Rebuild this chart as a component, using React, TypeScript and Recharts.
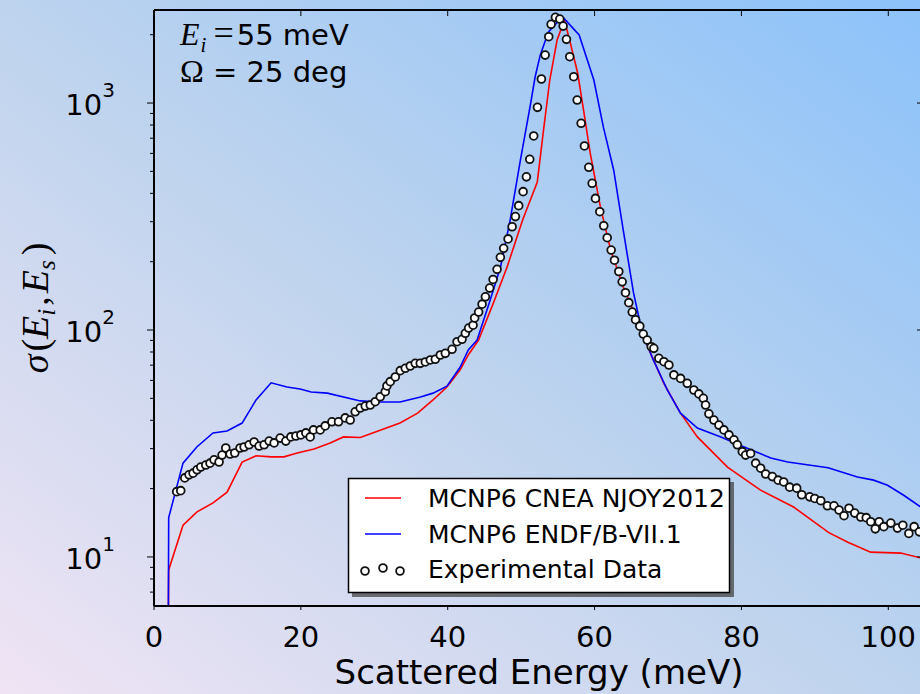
import { ComposedChart, Line, Scatter, XAxis, YAxis } from "recharts"

const W = 930
const H = 694
const PL = 154
const PT = 10
const PR = 925
const PB = 606

const xTicks = [0, 20, 40, 60, 80, 100]
const yMajor = [10, 100, 1000]
const yTicks = [7, 8, 9, 10, 20, 30, 40, 50, 60, 70, 80, 90, 100, 200, 300, 400, 500, 600, 700, 800, 900, 1000, 2000]

// MCNP6 CNEA NJOY2012
const redX = [1.95, 2.0, 3.95, 5.86, 8.04, 9.95, 12.0, 13.9, 15.95, 17.7, 19.5, 21.8, 24.0, 25.8, 28.1, 30.8, 33.5, 35.9, 38.0, 39.9, 41.7, 42.8, 44.2, 46.2, 48.1, 50.2, 52.2, 53.0, 53.9, 54.9, 55.9, 56.7, 57.7, 58.5, 59.4, 60.8, 62.2, 63.9, 65.8, 67.6, 69.4, 71.7, 74.0, 78.1, 82.6, 87.1, 91.9, 94.5, 97.6, 101.7, 104.4]
const redY = [5, 8.77, 13.8, 15.8, 17.3, 19.3, 26.2, 27.9, 27.6, 27.6, 28.7, 29.9, 31.8, 33.8, 33.6, 36.2, 38.9, 43.0, 49.2, 56.1, 66.7, 77.6, 90.3, 131, 190, 305, 449, 738, 1263, 1898, 2322, 1837, 1356, 931, 603, 348, 225, 155, 111, 79.3, 58.5, 43.0, 33.8, 24.9, 19.7, 16.6, 12.8, 11.6, 10.5, 10.4, 9.9]

// MCNP6 ENDF/B-VII.1
const blueX = [1.95, 2.0, 3.95, 5.86, 8.04, 9.95, 12.0, 13.9, 15.95, 18.1, 19.9, 21.4, 23.6, 28.1, 30.8, 33.5, 36.3, 38.0, 39.9, 41.7, 42.8, 44.0, 45.8, 47.2, 48.5, 49.9, 51.3, 51.9, 52.6, 53.7, 54.8, 55.8, 57.9, 59.9, 61.2, 62.6, 63.9, 65.3, 66.5, 68.0, 69.9, 71.7, 74.0, 77.2, 80.3, 84.0, 86.3, 91.8, 95.8, 98.0, 99.9, 102.1, 104.4]
const blueY = [5, 14.9, 25.9, 30.6, 35.2, 35.9, 38.9, 49.2, 58.5, 56.1, 55.0, 53.3, 52.7, 48.7, 48.2, 48.2, 50.7, 52.7, 56.6, 68.7, 81.7, 90.3, 136, 190, 305, 561, 1000, 1302, 1626, 2054, 2249, 2367, 1994, 1263, 783, 507, 276, 146, 97.0, 73.8, 54.5, 43.0, 37.0, 33.8, 30.6, 27.3, 26.2, 24.7, 22.5, 21.8, 20.7, 18.7, 16.6]

// Experimental Data
const expX = [
  3.09, 3.64, 4.19, 4.77, 5.32, 5.86, 6.37, 7.05, 7.63, 8.18,
  8.86, 9.27, 9.77, 10.36, 11.0, 11.72, 12.27, 12.95, 13.63, 14.31,
  15.0, 15.68, 16.36, 17.18, 17.95, 18.64, 19.32, 20.0, 20.68, 21.27,
  21.72, 22.63, 23.31, 24.23, 25.13, 26.04, 26.72, 27.4, 28.08, 28.77,
  29.45, 30.13, 30.81, 31.49, 31.72, 32.17, 32.86, 33.54, 34.22, 34.9,
  35.58, 36.26, 36.95, 37.63, 38.31, 38.99, 39.67, 40.59, 41.27, 41.95,
  42.4, 42.85, 43.45, 43.67, 44.21, 44.68, 45.13, 45.71, 46.18, 46.72,
  47.17, 47.62, 48.22, 48.77, 49.22, 49.67, 50.27, 50.72, 51.17, 51.71,
  52.22, 52.76, 53.27, 53.76, 54.08, 54.67, 55.26, 55.72, 56.17, 56.62,
  57.16, 57.63, 58.17, 58.62, 59.21, 59.67, 60.12, 60.71, 61.25, 61.72,
  62.26, 62.71, 63.3, 63.76, 64.21, 64.66, 65.13, 65.58, 66.16, 66.63,
  67.17, 67.72, 68.07, 68.75, 69.44, 70.12, 70.8, 71.71, 72.62, 73.52,
  74.2, 74.81, 75.12, 75.57, 76.25, 76.93, 77.61, 78.3, 78.98, 79.44,
  80.12, 80.57, 81.25, 81.94, 82.62, 83.3, 84.21, 85.0, 85.75, 86.57,
  87.53, 88.21, 89.3, 89.98, 90.8, 91.71, 92.61, 93.29, 93.97, 94.65,
  95.43, 96.25, 97.0, 97.61, 98.23, 98.75, 99.39, 100.34, 101.25, 101.98,
  102.8, 103.52, 104.23,
]
const expY = [
  19.4, 19.6, 22.3, 23.0, 23.4, 24.2, 24.9, 25.4, 25.9, 26.8,
  26.2, 28.1, 30.2, 28.4, 28.7, 30.2, 30.5, 31.2, 32.1, 30.8,
  31.2, 32.4, 31.8, 33.4, 32.4, 33.8, 34.1, 34.5, 35.2, 33.8,
  36.3, 36.3, 37.8, 39.4, 39.4, 41.0, 40.1, 43.6, 45.3, 46.2,
  46.7, 48.3, 50.8, 53.5, 56.7, 59.2, 62.1, 66.2, 67.8, 69.4,
  71.3, 71.3, 72.3, 73.8, 74.3, 77.6, 78.9, 82.2, 88.8, 91.0,
  96.7, 102, 105, 113, 120, 130, 140, 153, 167, 185,
  209, 229, 252, 285, 316, 353, 407, 473, 565, 716,
  957, 1276, 1626, 1960, 2222, 2387, 2344, 2183, 1908, 1600,
  1306, 1031, 814, 647, 521, 443, 380, 332, 288, 255,
  225, 203, 181, 163, 146, 132, 120, 111, 104, 96,
  90.3, 84.4, 83.0, 75.0, 72.5, 70.1, 63.4, 61.2, 58.2, 54.4,
  52.3, 50.0, 46.7, 42.7, 40.1, 38.1, 36.3, 34.5, 32.8, 31.2,
  29.1, 28.1, 28.6, 25.9, 24.6, 23.2, 22.6, 21.8, 21.4, 20.3,
  20.1, 18.8, 18.4, 18.1, 17.7, 16.8, 16.8, 16.1, 15.2, 16.4,
  15.6, 15.0, 14.9, 14.3, 13.3, 14.3, 13.6, 14.1, 13.4, 13.8,
  12.7, 13.6, 12.9,
]

const redData = redX.map((x, i) => ({ x, y: redY[i] }))
const blueData = blueX.map((x, i) => ({ x, y: blueY[i] }))
const expData = expX.map((x, i) => ({ x, y: expY[i] }))

const SANS = "DejaVu Sans"
const SERIF = "Liberation Serif"

const BottomTick = ({ x, payload }: any) => (
  <g>
    <line x1={x} x2={x} y1={PB} y2={PB + 4} stroke="#000" strokeWidth={1} />
    <text x={x} y={PB + 41} textAnchor="middle" fontFamily={SANS} fontSize={29} fill="#000">
      {payload.value}
    </text>
  </g>
)

const TopTick = ({ x }: any) => <line x1={x} x2={x} y1={PT} y2={PT + 6} stroke="#000" strokeWidth={1} />

const LeftTick = ({ y, payload }: any) => {
  const v = payload.value
  const major = yMajor.includes(v)
  return (
    <g>
      <line x1={PL - (major ? 7 : 4)} x2={PL} y1={y} y2={y} stroke="#000" strokeWidth={1} />
      {major && (
        <text x={PL - 39} y={y + 12} textAnchor="end" fontFamily={SANS} fontSize={29} fill="#000">
          10
          <tspan dy={-18} fontSize={20}>
            {Math.round(Math.log10(v))}
          </tspan>
        </text>
      )}
    </g>
  )
}

const RightTick = ({ y, payload }: any) => {
  const major = yMajor.includes(payload.value)
  return <line x1={PR - (major ? 8 : 4)} x2={PR} y1={y} y2={y} stroke="#000" strokeWidth={1} />
}

const Circle = ({ cx, cy }: any) => <circle cx={cx} cy={cy} r={3.9} fill="#fff" stroke="#111" strokeWidth={1.8} />

function Overlay() {
  return (
    <svg width={920} height={694} style={{ position: "absolute", left: 0, top: 0, pointerEvents: "none" }}>
      {/* annotations */}
      <text x={180} y={45} fontSize={29} fill="#000">
        <tspan fontFamily={SERIF} fontStyle="italic" fontSize={32}>E</tspan>
        <tspan fontFamily={SERIF} fontStyle="italic" fontSize={21} dy={7} dx={1}>i</tspan>
        <tspan fontFamily={SERIF} fontSize={36} dy={-7} dx={7}>=</tspan>
        <tspan fontFamily={SANS} dx={3}>55 meV</tspan>
      </text>
      <text x={180} y={82} fontSize={29} fill="#000">
        <tspan fontFamily={SERIF} fontSize={32}>Ω</tspan>
        <tspan fontFamily={SANS}> = 25 deg</tspan>
      </text>

      {/* axis labels */}
      <text x={539} y={684} textAnchor="middle" fontFamily={SANS} fontSize={34} fill="#000">
        Scattered Energy (meV)
      </text>
      <text
        x={48}
        y={308}
        textAnchor="middle"
        fontFamily={SERIF}
        fontSize={38}
        fill="#000"
        transform="rotate(-90 48 308)"
      >
        <tspan fontStyle="italic">σ</tspan>
        <tspan dx={3}>(</tspan>
        <tspan fontStyle="italic">E</tspan>
        <tspan fontStyle="italic" fontSize={25} dy={7}>i</tspan>
        <tspan dy={-7} dx={3}>,</tspan>
        <tspan fontStyle="italic" dx={3}>E</tspan>
        <tspan fontStyle="italic" fontSize={25} dy={7}>s</tspan>
        <tspan dy={-7} dx={5}>)</tspan>
      </text>

      {/* legend */}
      <rect x={352} y={482} width={382} height={115} fill="#444" opacity={0.75} />
      <rect x={348.5} y={478.5} width={381} height={114} fill="#fff" stroke="#000" strokeWidth={1.5} />
      <line x1={365} x2={401} y1={498} y2={498} stroke="#ff0000" strokeWidth={1.6} />
      <text x={428} y={507} fontFamily={SANS} fontSize={25} fill="#000">MCNP6 CNEA NJOY2012</text>
      <line x1={365} x2={401} y1={534} y2={534} stroke="#0000ff" strokeWidth={1.6} />
      <text x={428} y={543} fontFamily={SANS} fontSize={25} fill="#000">MCNP6 ENDF/B-VII.1</text>
      <circle cx={365} cy={571} r={3.9} fill="#fff" stroke="#111" strokeWidth={1.8} />
      <circle cx={383} cy={568} r={3.9} fill="#fff" stroke="#111" strokeWidth={1.8} />
      <circle cx={400} cy={571} r={3.9} fill="#fff" stroke="#111" strokeWidth={1.8} />
      <text x={428} y={578} fontFamily={SANS} fontSize={25} fill="#000">Experimental Data</text>
    </svg>
  )
}

export default function App() {
  return (
    <div
      style={{
        position: "absolute",
        left: 0,
        top: 0,
        width: 920,
        height: 694,
        overflow: "hidden",
        background: "linear-gradient(to top right, #f0e4f4 0%, #bdd3ee 50%, #8cc2fa 100%)",
      }}
    >
      <ComposedChart width={W} height={H} margin={{ top: PT - 1, right: W - PR - 1, bottom: 0, left: 0 }}>
        <XAxis
          type="number"
          dataKey="x"
          domain={[0, 105]}
          allowDataOverflow
          ticks={xTicks}
          height={H - PB}
          tick={BottomTick}
          tickLine={false}
          axisLine={{ stroke: "#000", strokeWidth: 2 }}
        />
        <XAxis
          xAxisId="top"
          orientation="top"
          type="number"
          dataKey="x"
          domain={[0, 105]}
          allowDataOverflow
          ticks={xTicks}
          height={1}
          tick={TopTick}
          tickLine={false}
          axisLine={{ stroke: "#000", strokeWidth: 2 }}
        />
        <YAxis
          type="number"
          dataKey="y"
          scale="log"
          domain={[6.08, 2570]}
          allowDataOverflow
          ticks={yTicks}
          interval={0}
          width={PL}
          tick={LeftTick}
          tickLine={false}
          axisLine={{ stroke: "#000", strokeWidth: 2 }}
        />
        <YAxis
          yAxisId="right"
          orientation="right"
          type="number"
          dataKey="y"
          scale="log"
          domain={[6.08, 2570]}
          allowDataOverflow
          ticks={yTicks}
          interval={0}
          width={1}
          tick={RightTick}
          tickLine={false}
          axisLine={{ stroke: "#000", strokeWidth: 2 }}
        />
        {/* hidden series so the top and right frame axes are drawn */}
        <Line
          data={redData}
          xAxisId="top"
          yAxisId="right"
          dataKey="y"
          stroke="none"
          dot={false}
          legendType="none"
          isAnimationActive={false}
        />
        <Line
          data={redData}
          dataKey="y"
          type="linear"
          stroke="#ff0000"
          strokeWidth={1.6}
          dot={false}
          isAnimationActive={false}
        />
        <Line
          data={blueData}
          dataKey="y"
          type="linear"
          stroke="#0000ff"
          strokeWidth={1.6}
          dot={false}
          isAnimationActive={false}
        />
        <Scatter data={expData} dataKey="y" shape={Circle} isAnimationActive={false} />
      </ComposedChart>
      <Overlay />
    </div>
  )
}
